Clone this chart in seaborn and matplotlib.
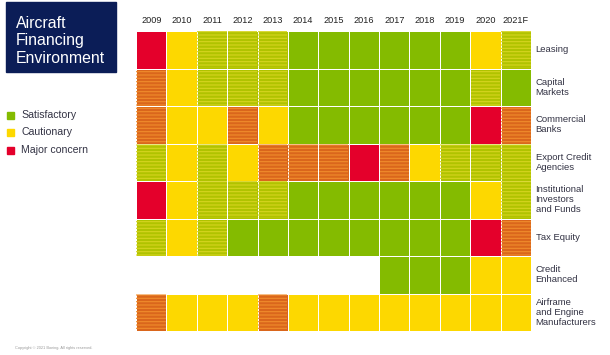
import numpy as np
import pandas as pd
import matplotlib
matplotlib.use("Agg")
import matplotlib.pyplot as plt
from matplotlib.colors import ListedColormap
from matplotlib.patches import Rectangle
import seaborn as sns

# status codes: 0 satisfactory, 1 satisfactory/cautionary, 2 cautionary,
# 3 cautionary/major concern, 4 major concern, nan = not shown
YEARS = ["2009", "2010", "2011", "2012", "2013", "2014", "2015",
         "2016", "2017", "2018", "2019", "2020", "2021F"]
ROWS = ["Leasing", "Capital\nMarkets", "Commercial\nBanks", "Export Credit\nAgencies",
        "Institutional\nInvestors\nand Funds", "Tax Equity", "Credit\nEnhanced",
        "Airframe\nand Engine\nManufacturers"]

n = np.nan
leasing = [4, 2, 1, 1, 1, 0, 0, 0, 0, 0, 0, 2, 1]
capital_markets = [3, 2, 1, 1, 1, 0, 0, 0, 0, 0, 0, 1, 0]
commercial_banks = [3, 2, 2, 3, 2, 0, 0, 0, 0, 0, 0, 4, 3]
export_credit = [1, 2, 1, 2, 3, 3, 3, 4, 3, 2, 1, 1, 1]
institutional = [4, 2, 1, 1, 1, 0, 0, 0, 0, 0, 0, 2, 1]
tax_equity = [1, 2, 1, 0, 0, 0, 0, 0, 0, 0, 0, 4, 3]
credit_enhanced = [n, n, n, n, n, n, n, n, 0, 0, 0, 2, 2]
airframe = [3, 2, 2, 2, 3, 2, 2, 2, 2, 2, 2, 2, 2]

LEGEND = ["Satisfactory", "Cautionary", "Major concern"]

GREEN = "#84bb00"
YELLOW = "#fdd800"
RED = "#e4002b"
COLORS = [GREEN, "#b0c300", YELLOW, "#da661c", RED]
STRIPE = {1: "#d6d420", 3: "#f08c2c"}

df = pd.DataFrame([leasing, capital_markets, commercial_banks, export_credit,
                   institutional, tax_equity, credit_enhanced, airframe],
                  index=ROWS, columns=YEARS)

plt.rcParams["font.family"] = ["Liberation Sans", "DejaVu Sans"]
plt.rcParams["hatch.linewidth"] = 0.8

fig = plt.figure(figsize=(6.1, 3.55), dpi=100)
W, H = 610, 355
ax = fig.add_axes([136 / W, (H - 331) / H, 395 / W, 300 / H])

sns.heatmap(df, ax=ax, cmap=ListedColormap(COLORS), vmin=-0.5, vmax=4.5,
            cbar=False, linewidths=0.7, linecolor="white", square=False)

# stripes for the mixed cells
for i in range(df.shape[0]):
    for j in range(df.shape[1]):
        v = df.iat[i, j]
        if v in STRIPE:
            ax.add_patch(Rectangle((j + 0.015, i + 0.01), 0.97, 0.98, facecolor="none",
                                   edgecolor=STRIPE[int(v)], linewidth=0,
                                   hatch="-----"))

ax.xaxis.tick_top()
ax.set_xticklabels(YEARS, fontsize=6.6, color="#222222")
ax.tick_params(axis="both", length=0, pad=4)
ax.set_yticks([])
ax.set_xlabel("")
ax.set_ylabel("")

for i, label in enumerate(ROWS):
    ax.text(13.15, i + 0.5, label, ha="left", va="center", fontsize=6.8,
            color="#333344", linespacing=1.15)

# title box
fig.patches.append(Rectangle((6 / W, (H - 72) / H), 110 / W, 70 / H,
                             transform=fig.transFigure, color="#0b1d57"))
fig.text(16 / W, (H - 41) / H, "Aircraft\nFinancing\nEnvironment", color="white",
         fontsize=11.4, ha="left", va="center", linespacing=1.2)

# legend
for k, (name, c) in enumerate(zip(LEGEND, [GREEN, YELLOW, RED])):
    y = H - (115 + 17.5 * k)
    fig.patches.append(Rectangle((7 / W, (y - 3.5) / H), 7 / W, 7 / H,
                                 transform=fig.transFigure, color=c))
    fig.text(21 / W, y / H, name, fontsize=7.6, color="#333344",
             ha="left", va="center")

fig.text(15 / W, (H - 348) / H, "Copyright \u00a9 2021 Boeing. All rights reserved.",
         fontsize=2.8, color="#999999", ha="left", va="center")

fig.savefig("out.png", dpi=100)
